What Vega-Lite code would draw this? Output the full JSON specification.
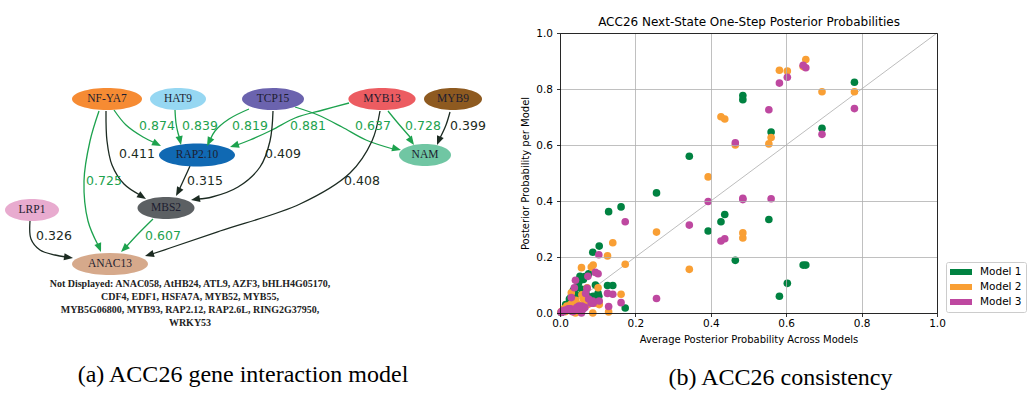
{
 "$schema": "https://vega.github.io/schema/vega-lite/v6.json",
 "background": "white",
 "padding": {"left": 0, "top": 15, "right": 5, "bottom": 5},
 "autosize": {"type": "pad"},
 "config": {"view": {"stroke": null}, "font": "DejaVu Sans"},
 "bounds": "flush",
 "spacing": 60,
 "resolve": {"scale": {"color": "independent", "fill": "independent", "stroke": "independent", "shape": "independent", "angle": "independent"}, "legend": {"color": "independent"}},
 "datasets": {
  "nodes": [
   {"node": "NF-YA7", "x": 107, "y": 98},
   {"node": "HAT9", "x": 178, "y": 98},
   {"node": "TCP15", "x": 273, "y": 98},
   {"node": "MYB13", "x": 382, "y": 98},
   {"node": "MYB9", "x": 453, "y": 98},
   {"node": "RAP2.10", "x": 197, "y": 154},
   {"node": "NAM", "x": 425, "y": 154},
   {"node": "MBS2", "x": 166, "y": 207},
   {"node": "LRP1", "x": 32, "y": 209},
   {"node": "ANAC13", "x": 110, "y": 263}
  ],
  "edges": [
   {"edge": "e1", "kind": "g", "i": 0, "x": 114, "y": 109}, {"edge": "e1", "kind": "g", "i": 1, "x": 126, "y": 124}, {"edge": "e1", "kind": "g", "i": 2, "x": 143, "y": 136}, {"edge": "e1", "kind": "g", "i": 3, "x": 155, "y": 142},
   {"edge": "e2", "kind": "g", "i": 0, "x": 175, "y": 109}, {"edge": "e2", "kind": "g", "i": 1, "x": 176, "y": 122}, {"edge": "e2", "kind": "g", "i": 2, "x": 178, "y": 132}, {"edge": "e2", "kind": "g", "i": 3, "x": 180, "y": 138},
   {"edge": "e3", "kind": "g", "i": 0, "x": 249, "y": 108}, {"edge": "e3", "kind": "g", "i": 1, "x": 229, "y": 118}, {"edge": "e3", "kind": "g", "i": 2, "x": 215, "y": 130}, {"edge": "e3", "kind": "g", "i": 3, "x": 210, "y": 139},
   {"edge": "e4", "kind": "g", "i": 0, "x": 349, "y": 102}, {"edge": "e4", "kind": "g", "i": 1, "x": 323, "y": 109}, {"edge": "e4", "kind": "g", "i": 2, "x": 295, "y": 117}, {"edge": "e4", "kind": "g", "i": 3, "x": 272, "y": 129}, {"edge": "e4", "kind": "g", "i": 4, "x": 250, "y": 139}, {"edge": "e4", "kind": "g", "i": 5, "x": 237, "y": 144},
   {"edge": "e5", "kind": "g", "i": 0, "x": 295, "y": 106}, {"edge": "e5", "kind": "g", "i": 1, "x": 318, "y": 114}, {"edge": "e5", "kind": "g", "i": 2, "x": 342, "y": 126}, {"edge": "e5", "kind": "g", "i": 3, "x": 366, "y": 139}, {"edge": "e5", "kind": "g", "i": 4, "x": 393, "y": 148},
   {"edge": "e6", "kind": "g", "i": 0, "x": 388, "y": 110}, {"edge": "e6", "kind": "g", "i": 1, "x": 397, "y": 121}, {"edge": "e6", "kind": "g", "i": 2, "x": 410, "y": 136},
   {"edge": "e7", "kind": "k", "i": 0, "x": 450, "y": 111}, {"edge": "e7", "kind": "k", "i": 1, "x": 446, "y": 124}, {"edge": "e7", "kind": "k", "i": 2, "x": 440, "y": 137},
   {"edge": "e8", "kind": "k", "i": 0, "x": 106, "y": 110}, {"edge": "e8", "kind": "k", "i": 1, "x": 107, "y": 140}, {"edge": "e8", "kind": "k", "i": 2, "x": 112, "y": 164}, {"edge": "e8", "kind": "k", "i": 3, "x": 124, "y": 183}, {"edge": "e8", "kind": "k", "i": 4, "x": 140, "y": 194},
   {"edge": "e9", "kind": "k", "i": 0, "x": 273, "y": 110}, {"edge": "e9", "kind": "k", "i": 1, "x": 270, "y": 140}, {"edge": "e9", "kind": "k", "i": 2, "x": 260, "y": 166}, {"edge": "e9", "kind": "k", "i": 3, "x": 238, "y": 186}, {"edge": "e9", "kind": "k", "i": 4, "x": 212, "y": 196}, {"edge": "e9", "kind": "k", "i": 5, "x": 198, "y": 198},
   {"edge": "e10", "kind": "k", "i": 0, "x": 190, "y": 165}, {"edge": "e10", "kind": "k", "i": 1, "x": 185, "y": 176}, {"edge": "e10", "kind": "k", "i": 2, "x": 179, "y": 189},
   {"edge": "e11", "kind": "g", "i": 0, "x": 99, "y": 110}, {"edge": "e11", "kind": "g", "i": 1, "x": 90, "y": 140}, {"edge": "e11", "kind": "g", "i": 2, "x": 84, "y": 180}, {"edge": "e11", "kind": "g", "i": 3, "x": 88, "y": 220}, {"edge": "e11", "kind": "g", "i": 4, "x": 98, "y": 244},
   {"edge": "e12", "kind": "g", "i": 0, "x": 153, "y": 218}, {"edge": "e12", "kind": "g", "i": 1, "x": 137, "y": 234}, {"edge": "e12", "kind": "g", "i": 2, "x": 126, "y": 246},
   {"edge": "e13", "kind": "k", "i": 0, "x": 30, "y": 220}, {"edge": "e13", "kind": "k", "i": 1, "x": 31, "y": 238}, {"edge": "e13", "kind": "k", "i": 2, "x": 40, "y": 249}, {"edge": "e13", "kind": "k", "i": 3, "x": 55, "y": 254}, {"edge": "e13", "kind": "k", "i": 4, "x": 66, "y": 256},
   {"edge": "e14", "kind": "k", "i": 0, "x": 380, "y": 110}, {"edge": "e14", "kind": "k", "i": 1, "x": 372, "y": 140}, {"edge": "e14", "kind": "k", "i": 2, "x": 350, "y": 172}, {"edge": "e14", "kind": "k", "i": 3, "x": 300, "y": 203}, {"edge": "e14", "kind": "k", "i": 4, "x": 220, "y": 230}, {"edge": "e14", "kind": "k", "i": 5, "x": 170, "y": 247}, {"edge": "e14", "kind": "k", "i": 6, "x": 152, "y": 253}
  ],
  "arrows": [
   {"edge": "e1", "kind": "g", "x": 161, "y": 145, "angle": 116.6},
   {"edge": "e2", "kind": "g", "x": 181, "y": 144, "angle": 167.9},
   {"edge": "e3", "kind": "g", "x": 207, "y": 145, "angle": 206.6},
   {"edge": "e4", "kind": "g", "x": 230, "y": 146, "angle": 252.6},
   {"edge": "e5", "kind": "g", "x": 401, "y": 149, "angle": 104},
   {"edge": "e6", "kind": "g", "x": 414, "y": 144, "angle": 145.3},
   {"edge": "e7", "kind": "k", "x": 437, "y": 144, "angle": 201.8},
   {"edge": "e8", "kind": "k", "x": 146, "y": 198, "angle": 122},
   {"edge": "e9", "kind": "k", "x": 191, "y": 199, "angle": 260},
   {"edge": "e10", "kind": "k", "x": 176, "y": 195, "angle": 208.1},
   {"edge": "e11", "kind": "g", "x": 101, "y": 251, "angle": 159},
   {"edge": "e12", "kind": "g", "x": 121, "y": 251, "angle": 225},
   {"edge": "e13", "kind": "k", "x": 73, "y": 257, "angle": 98},
   {"edge": "e14", "kind": "k", "x": 145, "y": 255, "angle": 253.7}
  ],
  "elabels": [
   {"t": "0.874", "kind": "g", "x": 157, "y": 125},
   {"t": "0.839", "kind": "g", "x": 200, "y": 125},
   {"t": "0.819", "kind": "g", "x": 250, "y": 125},
   {"t": "0.881", "kind": "g", "x": 308, "y": 125},
   {"t": "0.637", "kind": "g", "x": 373, "y": 125},
   {"t": "0.728", "kind": "g", "x": 423, "y": 125},
   {"t": "0.399", "kind": "k", "x": 468, "y": 125},
   {"t": "0.411", "kind": "k", "x": 137, "y": 153},
   {"t": "0.409", "kind": "k", "x": 283, "y": 153},
   {"t": "0.315", "kind": "k", "x": 205, "y": 180},
   {"t": "0.725", "kind": "g", "x": 104, "y": 180},
   {"t": "0.408", "kind": "k", "x": 362, "y": 180},
   {"t": "0.326", "kind": "k", "x": 54, "y": 235},
   {"t": "0.607", "kind": "g", "x": 163, "y": 235}
  ],
  "hidden": [
   {"x": 190, "y": 278, "t": "Not Displayed: ANAC058, AtHB24, ATL9, AZF3, bHLH4G05170,\nCDF4, EDF1, HSFA7A, MYB52, MYB55,\nMYB5G06800, MYB93, RAP2.12, RAP2.6L, RING2G37950,\nWRKY53"}
  ],
  "diag": [{"a": 0, "b": 0}, {"a": 1, "b": 1}],
  "scatter": [
   {"m": "Model 1", "x": 0.781, "y": 0.824}, {"m": "Model 1", "x": 0.695, "y": 0.660}, {"m": "Model 1", "x": 0.652, "y": 0.171}, {"m": "Model 1", "x": 0.645, "y": 0.171}, {"m": "Model 1", "x": 0.603, "y": 0.106}, {"m": "Model 1", "x": 0.582, "y": 0.060}, {"m": "Model 1", "x": 0.560, "y": 0.646}, {"m": "Model 1", "x": 0.554, "y": 0.334}, {"m": "Model 1", "x": 0.485, "y": 0.777}, {"m": "Model 1", "x": 0.485, "y": 0.762}, {"m": "Model 1", "x": 0.465, "y": 0.188}, {"m": "Model 1", "x": 0.437, "y": 0.352}, {"m": "Model 1", "x": 0.427, "y": 0.326}, {"m": "Model 1", "x": 0.393, "y": 0.293}, {"m": "Model 1", "x": 0.343, "y": 0.560}, {"m": "Model 1", "x": 0.256, "y": 0.429}, {"m": "Model 1", "x": 0.173, "y": 0.018}, {"m": "Model 1", "x": 0.162, "y": 0.379}, {"m": "Model 1", "x": 0.140, "y": 0.098}, {"m": "Model 1", "x": 0.129, "y": 0.362}, {"m": "Model 1", "x": 0.126, "y": 0.098}, {"m": "Model 1", "x": 0.104, "y": 0.239}, {"m": "Model 1", "x": 0.103, "y": 0.060}, {"m": "Model 1", "x": 0.101, "y": 0.070}, {"m": "Model 1", "x": 0.087, "y": 0.217}, {"m": "Model 1", "x": 0.088, "y": 0.060}, {"m": "Model 1", "x": 0.083, "y": 0.050}, {"m": "Model 1", "x": 0.076, "y": 0.140}, {"m": "Model 1", "x": 0.074, "y": 0.060}, {"m": "Model 1", "x": 0.057, "y": 0.010}, {"m": "Model 1", "x": 0.053, "y": 0.131}, {"m": "Model 1", "x": 0.041, "y": 0.005}, {"m": "Model 1", "x": 0.072, "y": 0.040},
   {"m": "Model 1", "x": 0.048, "y": 0.100}, {"m": "Model 1", "x": 0.045, "y": 0.090}, {"m": "Model 1", "x": 0.035, "y": 0.080}, {"m": "Model 1", "x": 0.030, "y": 0.060}, {"m": "Model 1", "x": 0.028, "y": 0.040}, {"m": "Model 1", "x": 0.025, "y": 0.050}, {"m": "Model 1", "x": 0.022, "y": 0.030}, {"m": "Model 1", "x": 0.018, "y": 0.020}, {"m": "Model 1", "x": 0.015, "y": 0.030}, {"m": "Model 1", "x": 0.012, "y": 0.015}, {"m": "Model 1", "x": 0.010, "y": 0.010}, {"m": "Model 1", "x": 0.008, "y": 0.005}, {"m": "Model 1", "x": 0.005, "y": 0.004}, {"m": "Model 1", "x": 0.003, "y": 0.002}, {"m": "Model 1", "x": 0.062, "y": 0.120}, {"m": "Model 1", "x": 0.066, "y": 0.130}, {"m": "Model 1", "x": 0.068, "y": 0.075}, {"m": "Model 1", "x": 0.058, "y": 0.085}, {"m": "Model 1", "x": 0.050, "y": 0.110}, {"m": "Model 1", "x": 0.038, "y": 0.070}, {"m": "Model 1", "x": 0.032, "y": 0.055}, {"m": "Model 1", "x": 0.042, "y": 0.065}, {"m": "Model 1", "x": 0.094, "y": 0.100},
   {"m": "Model 2", "x": 0.781, "y": 0.790}, {"m": "Model 2", "x": 0.695, "y": 0.790}, {"m": "Model 2", "x": 0.652, "y": 0.905}, {"m": "Model 2", "x": 0.645, "y": 0.880}, {"m": "Model 2", "x": 0.603, "y": 0.864}, {"m": "Model 2", "x": 0.582, "y": 0.867}, {"m": "Model 2", "x": 0.560, "y": 0.627}, {"m": "Model 2", "x": 0.554, "y": 0.604}, {"m": "Model 2", "x": 0.485, "y": 0.268}, {"m": "Model 2", "x": 0.485, "y": 0.286}, {"m": "Model 2", "x": 0.465, "y": 0.600}, {"m": "Model 2", "x": 0.437, "y": 0.693}, {"m": "Model 2", "x": 0.427, "y": 0.701}, {"m": "Model 2", "x": 0.393, "y": 0.486}, {"m": "Model 2", "x": 0.343, "y": 0.156}, {"m": "Model 2", "x": 0.256, "y": 0.289}, {"m": "Model 2", "x": 0.173, "y": 0.174}, {"m": "Model 2", "x": 0.162, "y": 0.067}, {"m": "Model 2", "x": 0.140, "y": 0.251}, {"m": "Model 2", "x": 0.129, "y": 0.004}, {"m": "Model 2", "x": 0.126, "y": 0.204}, {"m": "Model 2", "x": 0.104, "y": 0.030}, {"m": "Model 2", "x": 0.103, "y": 0.040}, {"m": "Model 2", "x": 0.101, "y": 0.090}, {"m": "Model 2", "x": 0.087, "y": 0.000}, {"m": "Model 2", "x": 0.088, "y": 0.171}, {"m": "Model 2", "x": 0.083, "y": 0.164}, {"m": "Model 2", "x": 0.076, "y": 0.040}, {"m": "Model 2", "x": 0.074, "y": 0.030}, {"m": "Model 2", "x": 0.057, "y": 0.162}, {"m": "Model 2", "x": 0.053, "y": 0.020}, {"m": "Model 2", "x": 0.041, "y": 0.000}, {"m": "Model 2", "x": 0.072, "y": 0.090},
   {"m": "Model 2", "x": 0.048, "y": 0.030}, {"m": "Model 2", "x": 0.045, "y": 0.025}, {"m": "Model 2", "x": 0.035, "y": 0.020}, {"m": "Model 2", "x": 0.030, "y": 0.072}, {"m": "Model 2", "x": 0.028, "y": 0.030}, {"m": "Model 2", "x": 0.025, "y": 0.010}, {"m": "Model 2", "x": 0.022, "y": 0.020}, {"m": "Model 2", "x": 0.018, "y": 0.025}, {"m": "Model 2", "x": 0.015, "y": 0.005}, {"m": "Model 2", "x": 0.012, "y": 0.010}, {"m": "Model 2", "x": 0.010, "y": 0.015}, {"m": "Model 2", "x": 0.008, "y": 0.010}, {"m": "Model 2", "x": 0.005, "y": 0.006}, {"m": "Model 2", "x": 0.003, "y": 0.004}, {"m": "Model 2", "x": 0.062, "y": 0.050}, {"m": "Model 2", "x": 0.066, "y": 0.045}, {"m": "Model 2", "x": 0.068, "y": 0.060}, {"m": "Model 2", "x": 0.058, "y": 0.065}, {"m": "Model 2", "x": 0.050, "y": 0.015}, {"m": "Model 2", "x": 0.038, "y": 0.030}, {"m": "Model 2", "x": 0.032, "y": 0.035}, {"m": "Model 2", "x": 0.042, "y": 0.045}, {"m": "Model 2", "x": 0.094, "y": 0.035},
   {"m": "Model 3", "x": 0.781, "y": 0.730}, {"m": "Model 3", "x": 0.695, "y": 0.638}, {"m": "Model 3", "x": 0.652, "y": 0.876}, {"m": "Model 3", "x": 0.645, "y": 0.885}, {"m": "Model 3", "x": 0.603, "y": 0.842}, {"m": "Model 3", "x": 0.582, "y": 0.821}, {"m": "Model 3", "x": 0.560, "y": 0.408}, {"m": "Model 3", "x": 0.554, "y": 0.726}, {"m": "Model 3", "x": 0.485, "y": 0.410}, {"m": "Model 3", "x": 0.485, "y": 0.405}, {"m": "Model 3", "x": 0.465, "y": 0.608}, {"m": "Model 3", "x": 0.437, "y": 0.265}, {"m": "Model 3", "x": 0.427, "y": 0.257}, {"m": "Model 3", "x": 0.393, "y": 0.398}, {"m": "Model 3", "x": 0.343, "y": 0.314}, {"m": "Model 3", "x": 0.256, "y": 0.052}, {"m": "Model 3", "x": 0.173, "y": 0.326}, {"m": "Model 3", "x": 0.162, "y": 0.037}, {"m": "Model 3", "x": 0.140, "y": 0.067}, {"m": "Model 3", "x": 0.129, "y": 0.023}, {"m": "Model 3", "x": 0.126, "y": 0.070}, {"m": "Model 3", "x": 0.104, "y": 0.043}, {"m": "Model 3", "x": 0.103, "y": 0.208}, {"m": "Model 3", "x": 0.101, "y": 0.140}, {"m": "Model 3", "x": 0.087, "y": 0.043}, {"m": "Model 3", "x": 0.088, "y": 0.035}, {"m": "Model 3", "x": 0.083, "y": 0.035}, {"m": "Model 3", "x": 0.076, "y": 0.050}, {"m": "Model 3", "x": 0.074, "y": 0.131}, {"m": "Model 3", "x": 0.057, "y": 0.000}, {"m": "Model 3", "x": 0.053, "y": 0.010}, {"m": "Model 3", "x": 0.041, "y": 0.117}, {"m": "Model 3", "x": 0.072, "y": 0.088},
   {"m": "Model 3", "x": 0.048, "y": 0.015}, {"m": "Model 3", "x": 0.045, "y": 0.020}, {"m": "Model 3", "x": 0.035, "y": 0.005}, {"m": "Model 3", "x": 0.030, "y": 0.055}, {"m": "Model 3", "x": 0.028, "y": 0.015}, {"m": "Model 3", "x": 0.025, "y": 0.015}, {"m": "Model 3", "x": 0.022, "y": 0.015}, {"m": "Model 3", "x": 0.018, "y": 0.010}, {"m": "Model 3", "x": 0.015, "y": 0.010}, {"m": "Model 3", "x": 0.012, "y": 0.010}, {"m": "Model 3", "x": 0.010, "y": 0.005}, {"m": "Model 3", "x": 0.008, "y": 0.008}, {"m": "Model 3", "x": 0.005, "y": 0.004}, {"m": "Model 3", "x": 0.003, "y": 0.003}, {"m": "Model 3", "x": 0.062, "y": 0.015}, {"m": "Model 3", "x": 0.066, "y": 0.020}, {"m": "Model 3", "x": 0.068, "y": 0.070}, {"m": "Model 3", "x": 0.058, "y": 0.025}, {"m": "Model 3", "x": 0.050, "y": 0.025}, {"m": "Model 3", "x": 0.038, "y": 0.090}, {"m": "Model 3", "x": 0.032, "y": 0.005}, {"m": "Model 3", "x": 0.042, "y": 0.015}, {"m": "Model 3", "x": 0.094, "y": 0.145}
  ]
 },
 "hconcat": [
  {
   "width": 500,
   "height": 280,
   "title": {"text": "(a) ACC26 gene interaction model", "orient": "bottom", "anchor": "middle", "frame": "group", "dx": -7, "offset": 35, "font": "Liberation Serif", "fontSize": 24, "fontWeight": "normal", "color": "#000000"},
   "layer": [
    {
     "data": {"name": "edges"},
     "mark": {"type": "line", "interpolate": "catmull-rom", "strokeWidth": 1.3},
     "encoding": {
      "x": {"field": "x", "type": "quantitative", "scale": {"domain": [0, 500], "nice": false, "zero": false}, "axis": null},
      "y": {"field": "y", "type": "quantitative", "scale": {"domain": [32, 312], "nice": false, "zero": false, "reverse": true}, "axis": null},
      "detail": {"field": "edge", "type": "nominal"},
      "order": {"field": "i", "type": "quantitative"},
      "stroke": {"field": "kind", "type": "nominal", "scale": {"domain": ["g", "k"], "range": ["#1da24e", "#1c2b22"]}, "legend": null}
     }
    },
    {
     "data": {"name": "nodes"},
     "mark": {"type": "point", "filled": true, "opacity": 1, "size": 6400, "strokeWidth": 0},
     "encoding": {
      "x": {"field": "x", "type": "quantitative", "axis": null},
      "y": {"field": "y", "type": "quantitative", "axis": null},
      "shape": {"field": "node", "type": "nominal", "legend": null, "scale": {
        "domain": ["NF-YA7", "HAT9", "TCP15", "MYB13", "MYB9", "RAP2.10", "NAM", "MBS2", "LRP1", "ANAC13"],
        "range": [
         "M-0.875,0A0.875,0.275,0,1,0,0.875,0A0.875,0.275,0,1,0,-0.875,0Z",
         "M-0.7,0A0.7,0.275,0,1,0,0.7,0A0.7,0.275,0,1,0,-0.7,0Z",
         "M-0.775,0A0.775,0.275,0,1,0,0.775,0A0.775,0.275,0,1,0,-0.775,0Z",
         "M-0.84,0A0.84,0.275,0,1,0,0.84,0A0.84,0.275,0,1,0,-0.84,0Z",
         "M-0.725,0A0.725,0.275,0,1,0,0.725,0A0.725,0.275,0,1,0,-0.725,0Z",
         "M-0.95,0A0.95,0.29,0,1,0,0.95,0A0.95,0.29,0,1,0,-0.95,0Z",
         "M-0.65,0A0.65,0.275,0,1,0,0.65,0A0.65,0.275,0,1,0,-0.65,0Z",
         "M-0.7125,0A0.7125,0.275,0,1,0,0.7125,0A0.7125,0.275,0,1,0,-0.7125,0Z",
         "M-0.675,0A0.675,0.275,0,1,0,0.675,0A0.675,0.275,0,1,0,-0.675,0Z",
         "M-0.95,0A0.95,0.275,0,1,0,0.95,0A0.95,0.275,0,1,0,-0.95,0Z"
        ]}},
      "fill": {"field": "node", "type": "nominal", "legend": null, "scale": {
        "domain": ["NF-YA7", "HAT9", "TCP15", "MYB13", "MYB9", "RAP2.10", "NAM", "MBS2", "LRP1", "ANAC13"],
        "range": ["#f68b33", "#96d7f2", "#6b63ae", "#ec5c61", "#8e5a20", "#1069b3", "#70c6a3", "#5c6063", "#e8abcf", "#d6a98b"]}}
     }
    },
    {
     "data": {"name": "arrows"},
     "mark": {"type": "point", "filled": true, "opacity": 1, "size": 324, "shape": "M0,0L-0.4,1L0.4,1Z"},
     "encoding": {
      "x": {"field": "x", "type": "quantitative", "axis": null},
      "y": {"field": "y", "type": "quantitative", "axis": null},
      "angle": {"field": "angle", "type": "quantitative", "scale": {"domain": [0, 360], "range": [0, 360]}, "legend": null},
      "color": {"field": "kind", "type": "nominal", "scale": {"domain": ["g", "k"], "range": ["#1da24e", "#1c2b22"]}, "legend": null}
     }
    },
    {
     "data": {"name": "nodes"},
     "mark": {"type": "text", "font": "Liberation Serif", "fontSize": 11.5, "color": "#1d1d30"},
     "encoding": {
      "x": {"field": "x", "type": "quantitative", "axis": null},
      "y": {"field": "y", "type": "quantitative", "axis": null},
      "text": {"field": "node", "type": "nominal"}
     }
    },
    {
     "data": {"name": "elabels"},
     "mark": {"type": "text", "font": "DejaVu Sans", "fontSize": 12.5},
     "encoding": {
      "x": {"field": "x", "type": "quantitative", "axis": null},
      "y": {"field": "y", "type": "quantitative", "axis": null},
      "text": {"field": "t", "type": "nominal"},
      "color": {"field": "kind", "type": "nominal", "scale": {"domain": ["g", "k"], "range": ["#1da24e", "#1c2b22"]}, "legend": null}
     }
    },
    {
     "data": {"name": "hidden"},
     "mark": {"type": "text", "font": "Liberation Serif", "fontSize": 10, "fontWeight": "bold", "lineBreak": "\n", "lineHeight": 13, "baseline": "top", "align": "center", "color": "#222222"},
     "encoding": {
      "x": {"field": "x", "type": "quantitative", "axis": null},
      "y": {"field": "y", "type": "quantitative", "axis": null},
      "text": {"field": "t", "type": "nominal"}
     }
    }
   ]
  },
  {
   "width": 377,
   "height": 280,
   "title": {"text": "(b) ACC26 consistency", "orient": "bottom", "anchor": "middle", "frame": "group", "dx": 32, "offset": 22, "font": "Liberation Serif", "fontSize": 24, "fontWeight": "normal", "color": "#000000"},
   "layer": [
    {
     "data": {"name": "diag"},
     "mark": {"type": "line", "color": "#bdbdbd", "strokeWidth": 1},
     "encoding": {
      "x": {"field": "a", "type": "quantitative", "scale": {"domain": [0, 1], "nice": false, "zero": false},
        "axis": {"orient": "bottom", "values": [0, 0.2, 0.4, 0.6, 0.8, 1], "format": ".1f", "labelFlush": false, "labelOverlap": false, "labelFont": "DejaVu Sans", "labelFontSize": 10.5, "labelColor": "#000", "labelPadding": 2, "tickColor": "#000", "tickSize": 3.5, "tickWidth": 0.8, "domainColor": "#000", "domainWidth": 0.8, "grid": true, "gridColor": "#b0b0b0", "gridWidth": 0.8, "title": "Average Posterior Probability Across Models", "titleFont": "DejaVu Sans", "titleFontSize": 10, "titleFontWeight": "normal", "titleColor": "#000", "titlePadding": 5, "zindex": 1}},
      "y": {"field": "b", "type": "quantitative", "scale": {"domain": [0, 1], "nice": false, "zero": false},
        "axis": {"orient": "left", "values": [0, 0.2, 0.4, 0.6, 0.8, 1], "format": ".1f", "labelFlush": false, "labelOverlap": false, "labelFont": "DejaVu Sans", "labelFontSize": 10.5, "labelColor": "#000", "labelPadding": 4, "tickColor": "#000", "tickSize": 3.5, "tickWidth": 0.8, "domainColor": "#000", "domainWidth": 0.8, "grid": true, "gridColor": "#b0b0b0", "gridWidth": 0.8, "title": "Posterior Probability per Model", "titleFont": "DejaVu Sans", "titleFontSize": 10, "titleFontWeight": "normal", "titleColor": "#000", "titlePadding": 5, "zindex": 1}}
     }
    },
    {
     "data": {"name": "scatter"},
     "mark": {"type": "circle", "size": 58, "opacity": 1},
     "encoding": {
      "x": {"field": "x", "type": "quantitative", "axis": null},
      "y": {"field": "y", "type": "quantitative", "axis": null},
      "color": {"field": "m", "type": "nominal", "scale": {"domain": ["Model 1", "Model 2", "Model 3"], "range": ["#008241", "#f99f34", "#be48a0"]},
        "legend": {"orient": "none", "legendX": 386, "legendY": 229, "title": null, "symbolType": "M-1.833,-0.5H1.833V0.5H-1.833Z", "symbolSize": 144, "symbolOffset": 5, "labelOffset": 13, "padding": 4, "rowPadding": 3, "strokeColor": "#cccccc", "fillColor": "#ffffff", "cornerRadius": 2, "labelFont": "DejaVu Sans", "labelFontSize": 10.5, "labelColor": "#000", "symbolStrokeWidth": 0, "symbolOpacity": 1}}
     }
    },
    {
     "data": {"name": "diag"},
     "mark": {"type": "line", "opacity": 0},
     "encoding": {
      "x": {"field": "a", "type": "quantitative", "axis": {"orient": "top", "labels": false, "ticks": false, "grid": false, "domain": true, "domainColor": "#000", "domainWidth": 0.8, "title": "ACC26 Next-State One-Step Posterior Probabilities", "titleFont": "DejaVu Sans", "titleFontSize": 12, "titleFontWeight": "normal", "titleColor": "#000", "titlePadding": 5, "zindex": 1}},
      "y": {"field": "b", "type": "quantitative", "axis": {"orient": "right", "labels": false, "ticks": false, "grid": false, "domain": true, "domainColor": "#000", "domainWidth": 0.8, "title": null, "zindex": 1}}
     }
    }
   ],
   "resolve": {"axis": {"x": "independent", "y": "independent"}}
  }
 ]
}
